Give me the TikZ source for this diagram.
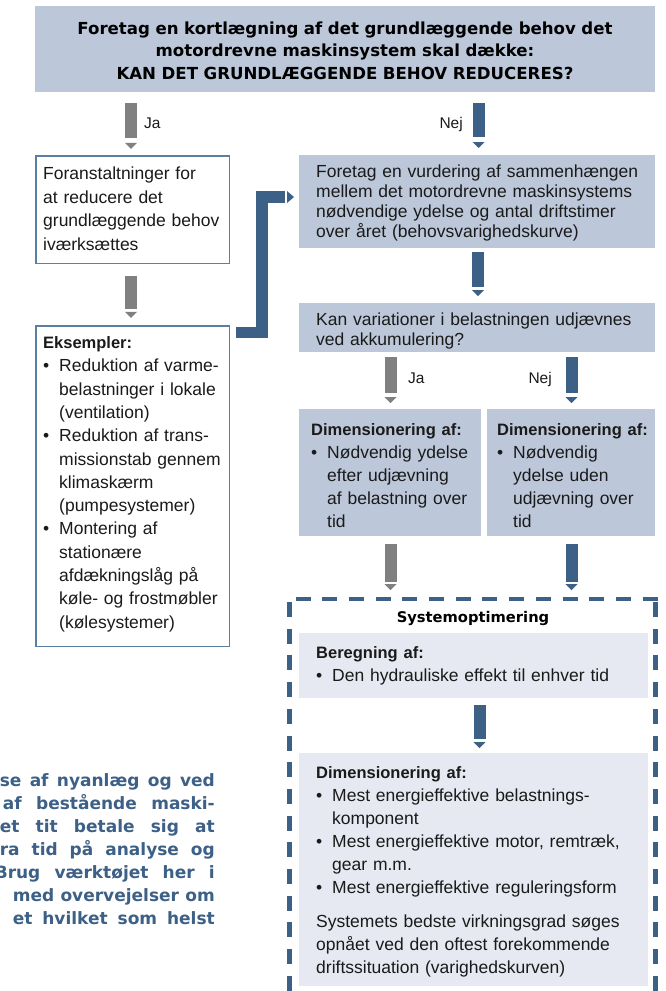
\documentclass[tikz,border=0pt]{standalone}
\usepackage{fontspec}
\setmainfont{Liberation Sans}
\newfontfamily\hdfont{DejaVu Sans}
\usetikzlibrary{calc}
\definecolor{hdr}{HTML}{BCC8DA}
\definecolor{pale}{HTML}{E6E9F1}
\definecolor{dblue}{HTML}{3D6087}
\definecolor{gbar}{HTML}{808080}
\definecolor{bord}{HTML}{5B7EA3}
\definecolor{txt}{HTML}{1A1A1A}
\newcommand\bul{\makebox[16pt][l]{\textbullet}}
\newcommand\ind{\hspace*{16pt}}
\newcommand\hd[1]{{\fontsize{16.5}{23}\selectfont\bfseries #1}}
\newcommand\vlink[7]{%
  \path (#2,0 |- #3.south) coordinate (vA);
  \path (#2,0 |- #5.north) coordinate (vB);
  \draw[line width=12pt, draw=#1] ($(vA)+(0,#4)$) -- ($(vB)+(0,-#6)$);
  \fill[#1] ($(vB)+(-6,-#7)$) -- ++(12,0) -- ++(-6,6) -- cycle;}
\tikzset{
  fillbox/.style={fill=hdr, draw=none, inner sep=0pt, outer sep=0pt, anchor=north west},
  palebox/.style={fill=pale, draw=none, inner sep=0pt, outer sep=0pt, anchor=north west},
  linebox/.style={fill=white, draw=bord, line width=1.5pt, inner sep=0pt, outer sep=0pt, anchor=north west},
  body/.style={anchor=base west, inner sep=0pt, text width=340pt, align=left, text=txt},
  lbl/.style={inner sep=0pt, text=txt, font={\fontsize{15.5}{18}\selectfont}},
  bluetext/.style={anchor=base east, inner sep=0pt, text=dblue, font={\hdfont\bfseries\fontsize{17}{23}\selectfont}},
  dashline/.style={draw=dblue, line width=4.5pt, dash pattern=on 15pt off 11.7pt},
}
\begin{document}
\begin{tikzpicture}[x=1pt,y=-1pt]
\useasboundingbox[fill=white] (0,0) rectangle (666,991);

% header
\node[fillbox, minimum width=620pt, minimum height=86pt] (hdr) at (35,6) {};
\node[anchor=base, inner sep=0pt, text width=620pt, align=center, text=black,
  font={\hdfont\bfseries\fontsize{16.6}{22.5}\selectfont}] (hdrtxt) at (345,34)
  {Foretag en kortlægning af det grundlæggende behov det\\
   motordrevne maskinsystem skal dække:\\
   KAN DET GRUNDLÆGGENDE BEHOV REDUCERES?};

% left column
\node[linebox, minimum width=193.5pt, minimum height=107.5pt] (lbox) at (35.75,155.75) {};
\node[body, font={\fontsize{17.5}{23.7}\selectfont}] (lboxtxt) at (43,179.5)
  {Foranstaltninger for\\at reducere det\\grundlæggende behov\\iværksættes};

\node[linebox, minimum width=193.5pt, minimum height=320.5pt] (eks) at (35.75,325.75) {};
\node[body, font={\fontsize{17.5}{23.3}\selectfont}] (ekstxt) at (43,348.5)
  {\hd{Eksempler:}\\
   \bul Reduktion af varme-\\
   \ind belastninger i lokale\\
   \ind (ventilation)\\
   \bul Reduktion af trans-\\
   \ind missionstab gennem\\
   \ind klimaskærm\\
   \ind (pumpesystemer)\\
   \bul Montering af\\
   \ind stationære\\
   \ind afdækningslåg på\\
   \ind køle- og frostmøbler\\
   \ind (kølesystemer)};

% right column
\node[fillbox, minimum width=356pt, minimum height=93pt] (rbox) at (299,155) {};
\node[body, font={\fontsize{17.5}{20}\selectfont}] (rboxtxt) at (316,177.5)
  {Foretag en vurdering af sammenhængen\\
   mellem det motordrevne maskinsystems\\
   nødvendige ydelse og antal driftstimer\\
   over året (behovsvarighedskurve)};

\node[fillbox, minimum width=356pt, minimum height=49pt] (kan) at (299,303) {};
\node[body, font={\fontsize{17.5}{19.5}\selectfont}] (kantxt) at (316,325.5)
  {Kan variationer i belastningen udjævnes\\ved akkumulering?};

\node[fillbox, minimum width=182pt, minimum height=127pt] (diml) at (299,409) {};
\node[body, font={\fontsize{17.5}{23}\selectfont}] (dimltxt) at (311,435.5)
  {\hd{Dimensionering af:}\\
   \bul Nødvendig ydelse\\
   \ind efter udjævning\\
   \ind af belastning over\\
   \ind tid};

\node[fillbox, minimum width=168pt, minimum height=127pt] (dimr) at (487,409) {};
\node[body, font={\fontsize{17.5}{23}\selectfont}] (dimrtxt) at (497,435.5)
  {\hd{Dimensionering af:}\\
   \bul Nødvendig\\
   \ind ydelse uden\\
   \ind udjævning over\\
   \ind tid};

% system optimisation frame
\node[inner sep=0pt, outer sep=0pt, minimum width=366pt, minimum height=420pt, anchor=north west] (sysopt) at (289.5,599) {};
\draw[dashline] ([xshift=6pt]sysopt.north west) -- ([xshift=3pt]sysopt.north east);
\draw[dashline] ([yshift=-3pt]sysopt.north west) -- (sysopt.south west);
\draw[dashline] ([yshift=-3pt]sysopt.north east) -- (sysopt.south east);
\node[anchor=base, inner sep=0pt, text=black, font={\hdfont\bfseries\fontsize{14.7}{18}\selectfont}] (systitle) at (473,622.5) {Systemoptimering};

\node[palebox, minimum width=349pt, minimum height=65pt] (bereg) at (299,633) {};
\node[body, font={\fontsize{17.5}{23}\selectfont}] (beregtxt) at (316,658.5)
  {\hd{Beregning af:}\\
   \bul Den hydrauliske effekt til enhver tid};

\node[palebox, minimum width=349pt, minimum height=233pt] (dimtwo) at (299,753) {};
\node[body, font={\fontsize{17.5}{23}\selectfont}] (dimtwotxt) at (316,778.5)
  {\hd{Dimensionering af:}\\
   \bul Mest energieffektive belastnings-\\
   \ind komponent\\
   \bul Mest energieffektive motor, remtræk,\\
   \ind gear m.m.\\
   \bul Mest energieffektive reguleringsform\\[11pt]
   Systemets bedste virkningsgrad søges\\
   opnået ved den oftest forekommende\\
   driftssituation (varighedskurven)};

% connectors
\vlink{gbar}{131}{hdr}{11}{lbox}{18}{13}
\vlink{dblue}{478.5}{hdr}{11}{rbox}{18}{13}
\vlink{gbar}{131}{lbox}{13}{eks}{17}{14}
\vlink{dblue}{478}{rbox}{4}{kan}{16}{13}
\vlink{gbar}{390.5}{kan}{5}{diml}{16}{12}
\vlink{dblue}{571.5}{kan}{5}{dimr}{16}{12}
\vlink{gbar}{390.5}{diml}{8}{sysopt}{17}{15}
\vlink{dblue}{571.5}{dimr}{8}{sysopt}{17}{15}
\vlink{dblue}{479.5}{bereg}{7}{dimtwo}{14}{11}

% L-shaped connector from examples to the assessment box
\draw[draw=dblue, line width=11.5pt] ($(eks.north east)+(7,6.5)$) -| ($(rbox.west)+(-37,-4.5)$) -- ($(rbox.west)+(-14,-4.5)$);
\fill[dblue] ($(rbox.west)+(-12,-10.5)$) -- ++(7,6) -- ++(-7,6) -- cycle;

% branch labels
\node[lbl, anchor=base west] (ja1) at (144,128) {Ja};
\node[lbl, anchor=base east] (nej1) at (463,128) {Nej};
\node[lbl, anchor=base west] (ja2) at (408,383) {Ja};
\node[lbl, anchor=base east] (nej2) at (552,383) {Nej};

% cut-off note text at the bottom left
\node[bluetext] (n1) at (215,786) {\makebox[215pt][s]{se af nyanlæg og ved}};
\node[bluetext] (n2) at (215,809) {\makebox[212pt][s]{af bestående maski-}};
\node[bluetext] (n3) at (215,832) {\makebox[215pt][s]{et tit betale sig at}};
\node[bluetext] (n4) at (215,855) {\makebox[215pt][s]{ra tid på analyse og}};
\node[bluetext] (n5) at (215,878) {\makebox[220pt][s]{Brug værktøjet her i}};
\node[bluetext] (n6) at (215,901) {\makebox[202pt][s]{med overvejelser om}};
\node[bluetext] (n7) at (215,924) {\makebox[202pt][s]{et hvilket som helst}};
\end{tikzpicture}
\end{document}
